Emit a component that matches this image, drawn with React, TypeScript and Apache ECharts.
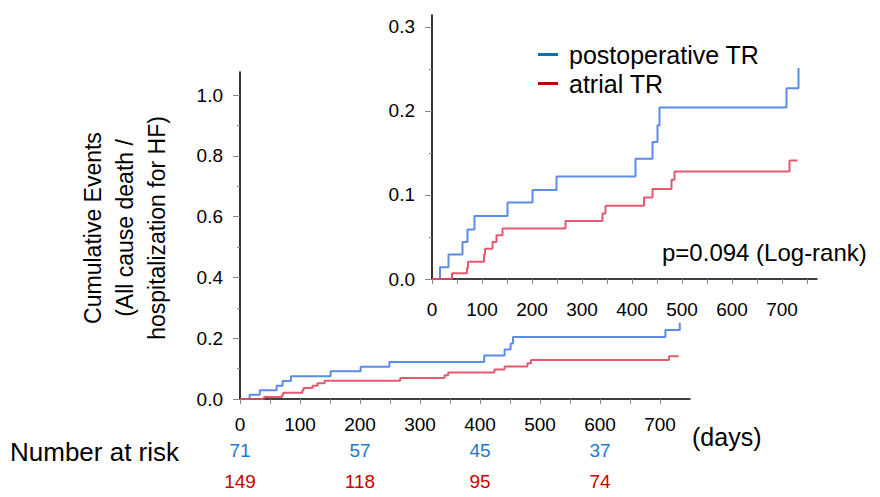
import React, { useEffect, useRef } from "react";
import * as echarts from "echarts";

// Kaplan-Meier cumulative events
const seriesNames = ["postoperative TR", "atrial TR"];
const postDays = [0, 16, 33, 61, 71, 85, 151, 201, 249, 407, 441, 451, 455, 709, 733];
const postCum = [0, 0.014, 0.029, 0.044, 0.059, 0.075, 0.091, 0.106, 0.122, 0.143, 0.163, 0.183, 0.204, 0.227, 0.251];
const atrialDays = [0, 40, 70, 72, 104, 106, 121, 129, 141, 267, 341, 347, 424, 441, 479, 485, 715, 731];
const atrialCum = [0, 0.0067, 0.0134, 0.0205, 0.029, 0.036, 0.044, 0.052, 0.06, 0.069, 0.078, 0.087, 0.097, 0.107, 0.118, 0.128, 0.141, 0.141];

// Number at risk
const riskDays = [0, 200, 400, 600];
const riskPost = [71, 57, 45, 37];
const riskAtrial = [149, 118, 95, 74];

// Tick values
const xTickValues = [0, 50, 100, 150, 200, 250, 300, 350, 400, 450, 500, 550, 600, 650, 700];
const xInsetTickValues = [0, 50, 100, 150, 200, 250, 300, 350, 400, 450, 500, 550, 600, 650, 700, 750];
const xLabelValues = [0, 100, 200, 300, 400, 500, 600, 700];
const yMainLabels = [0, 0.2, 0.4, 0.6, 0.8, 1.0];
const yMainMinor = [0.1, 0.3, 0.5, 0.7, 0.9];
const yInsetLabels = [0, 0.1, 0.2, 0.3];
const yInsetMinor = [0.05, 0.15, 0.25];

const FONT = '"Liberation Sans", Arial, Helvetica, sans-serif';
const LINE_BLUE = "#4a7fe6";
const LINE_RED = "#e2475e";
const LEG_BLUE = "#0070c0";
const LEG_RED = "#c00000";
const RISK_BLUE = "#1f78c8";
const RISK_RED = "#c80000";

export default function App() {
  const ref = useRef<HTMLDivElement>(null);
  useEffect(() => {
    if (!ref.current) return;
    const chart = echarts.init(ref.current, null, { renderer: "svg" });
    const postData = postDays.map((d, i) => [d, postCum[i]]);
    const atrialData = atrialDays.map((d, i) => [d, atrialCum[i]]);
    const riskRow = (names: number[], row: number, color: string) =>
      riskDays.map((d, i) => ({
        value: [d, row, names[i]],
        label: { color, opacity: 1 },
      }));
    const riskData = [...riskRow(riskPost, 0, RISK_BLUE), ...riskRow(riskAtrial, 1, RISK_RED)];
    const axisLine = { show: true, lineStyle: { color: "#000", width: 1.6 } };
    const xAxisCommon = (gridIndex: number, max: number, ticks: number[], margin: number) => ({
      type: "value",
      gridIndex,
      min: 0,
      max,
      axisLine: { ...axisLine, onZero: false },
      splitLine: { show: false },
      axisTick: { show: true, length: 5, customValues: ticks, lineStyle: { color: "#888", width: 1 } },
      axisLabel: {
        show: true,
        customValues: xLabelValues,
        margin,
        fontSize: 19,
        fontFamily: FONT,
        color: "#000",
      },
    });
    const yAxisMain = (gridIndex: number, max: number, labels: number[], margin: number) => ({
      type: "value",
      gridIndex,
      min: 0,
      max,
      position: "left",
      axisLine,
      splitLine: { show: false },
      axisTick: { show: true, length: 7, customValues: labels, lineStyle: { color: "#888", width: 1 } },
      axisLabel: {
        show: true,
        customValues: labels,
        margin,
        fontSize: 19,
        fontFamily: FONT,
        color: "#000",
        formatter: (v: number) => v.toFixed(1),
      },
    });
    const yAxisMinor = (gridIndex: number, max: number, minor: number[]) => ({
      type: "value",
      gridIndex,
      min: 0,
      max,
      position: "left",
      axisLine: { show: false },
      splitLine: { show: false },
      axisLabel: { show: false },
      axisTick: { show: true, length: 3, customValues: minor, lineStyle: { color: "#888", width: 1 } },
    });
    const lineSeries = (name: string, data: number[][], color: string, xi: number, yi: number) => ({
      type: "line",
      name,
      data,
      step: "end",
      xAxisIndex: xi,
      yAxisIndex: yi,
      showSymbol: false,
      symbol: "none",
      lineStyle: { color, width: 2, opacity: 0.9 },
      itemStyle: { color },
      z: 3,
    });
    chart.setOption({
      animation: false,
      backgroundColor: "#fff",
      grid: [
        { left: 240, right: 190, top: 72, bottom: 98 },
        { left: 432, right: 63, top: 15, bottom: 218 },
        { left: 240, right: 190, top: 435, height: 70 },
      ],
      xAxis: [
        xAxisCommon(0, 750, xTickValues, 16),
        xAxisCommon(1, 770, xInsetTickValues, 21),
        {
          type: "value",
          gridIndex: 2,
          min: 0,
          max: 750,
          show: false,
          splitLine: { show: false },
        },
      ],
      yAxis: [
        yAxisMain(0, 1.076, yMainLabels, 17),
        yAxisMinor(0, 1.076, yMainMinor),
        yAxisMain(1, 0.314, yInsetLabels, 17),
        yAxisMinor(1, 0.314, yInsetMinor),
        {
          type: "value",
          gridIndex: 2,
          min: -0.5,
          max: 1.5,
          inverse: true,
          show: false,
          splitLine: { show: false },
        },
      ],
      legend: {
        show: true,
        orient: "vertical",
        left: 533,
        top: 37,
        itemWidth: 20,
        itemHeight: 3,
        itemGap: 4,
        icon: "rect",
        textStyle: { fontSize: 25, fontFamily: FONT, color: "#000", padding: [0, 0, 0, 6] },
        data: [
          { name: seriesNames[0], itemStyle: { color: LEG_BLUE } },
          { name: seriesNames[1], itemStyle: { color: LEG_RED } },
        ],
      },
      series: [
        lineSeries(seriesNames[0], postData, LINE_BLUE, 0, 0),
        lineSeries(seriesNames[1], atrialData, LINE_RED, 0, 0),
        lineSeries(seriesNames[0], postData, LINE_BLUE, 1, 2),
        lineSeries(seriesNames[1], atrialData, LINE_RED, 1, 2),
        {
          type: "scatter",
          name: "risk",
          xAxisIndex: 2,
          yAxisIndex: 4,
          data: riskData,
          symbol: "circle",
          symbolSize: 2,
          itemStyle: { color: "rgba(255,255,255,0)" },
          silent: true,
          label: {
            show: true,
            position: "inside",
            fontSize: 19,
            fontFamily: FONT,
            opacity: 1,
            formatter: (p: any) => String(p.value[2]),
          },
        },
      ],
      graphic: [
        {
          type: "text",
          x: 125,
          y: 228,
          rotation: Math.PI / 2,
          style: {
            text: "Cumulative Events\n(All cause death /\nhospitalization for HF)",
            align: "center",
            verticalAlign: "middle",
            textAlign: "center",
            textVerticalAlign: "middle",
            fontSize: 23,
            lineHeight: 32,
            fontFamily: FONT,
            fill: "#000",
          },
        },
        {
          type: "text",
          x: 662,
          y: 252,
          style: {
            text: "p=0.094 (Log-rank)",
            textVerticalAlign: "middle",
            verticalAlign: "middle",
            fontSize: 24,
            fontFamily: FONT,
            fill: "#000",
          },
        },
        {
          type: "text",
          x: 692,
          y: 437,
          style: {
            text: "(days)",
            textVerticalAlign: "middle",
            verticalAlign: "middle",
            fontSize: 25,
            fontFamily: FONT,
            fill: "#000",
          },
        },
        {
          type: "text",
          x: 10,
          y: 452,
          style: {
            text: "Number at risk",
            textVerticalAlign: "middle",
            verticalAlign: "middle",
            fontSize: 26,
            fontFamily: FONT,
            fill: "#000",
          },
        },
      ],
    });
    return () => chart.dispose();
  }, []);
  return <div ref={ref} style={{ width: 880, height: 497, position: "absolute", left: 0, top: 0 }} />;
}
